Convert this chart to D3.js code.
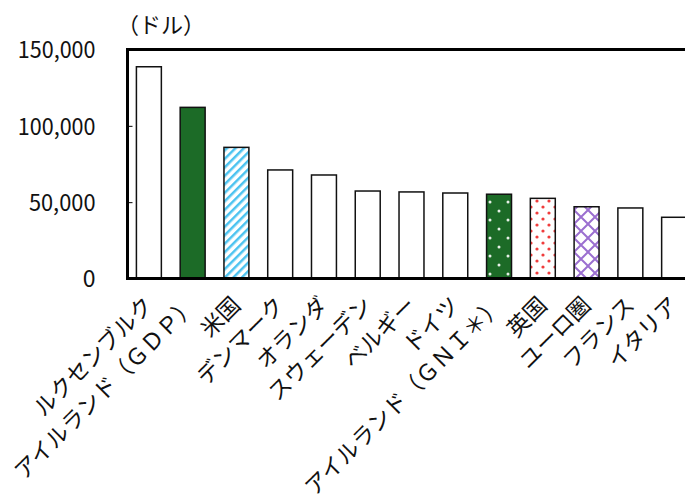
<!DOCTYPE html>
<html><head><meta charset="utf-8">
<script src="https://cdn.jsdelivr.net/npm/d3@7"></script>
<style>
html,body{margin:0;padding:0;background:#fff;}
svg{display:block;}
text{font-family:"Noto Sans CJK JP","Noto Sans",sans-serif;}
</style></head>
<body>
<script>
const categories = ["ルクセンブルク","アイルランド（ＧＤＰ）","米国","デンマーク","オランダ","スウェーデン","ベルギー","ドイツ","アイルランド（ＧＮＩ＊）","英国","ユーロ圏","フランス","イタリア"];
const values = [138700,112100,85900,71100,67800,57300,56700,56000,55200,52500,47000,46200,40100];
const fills = ["none","green","blueStripe","none","none","none","none","none","greenDots","redDots","purpleLattice","none","none"];
const yTicks = [0,50000,100000,150000];
const unitLabel = "（ドル）";

const W=685,H=501;
const svg=d3.select("body").append("svg").attr("width",W).attr("height",H);
const defs=svg.append("defs");

// patterns
const p1=defs.append("pattern").attr("id","blueStripe").attr("patternUnits","userSpaceOnUse").attr("width",6).attr("height",6).attr("patternTransform","rotate(45)");
p1.append("rect").attr("width",6).attr("height",6).attr("fill","#fff");
p1.append("rect").attr("x",0).attr("width",2.5).attr("height",6).attr("fill","#4cc3f0");

const p2=defs.append("pattern").attr("id","greenDots").attr("patternUnits","userSpaceOnUse").attr("width",18).attr("height",18);
p2.append("rect").attr("width",18).attr("height",18).attr("fill","#1c6b27");
p2.append("circle").attr("cx",4).attr("cy",4).attr("r",1.5).attr("fill","#e8f0e8");
p2.append("circle").attr("cx",13).attr("cy",13).attr("r",1.5).attr("fill","#e8f0e8");

const p3=defs.append("pattern").attr("id","redDots").attr("patternUnits","userSpaceOnUse").attr("width",12).attr("height",12);
p3.append("rect").attr("width",12).attr("height",12).attr("fill","#fff");
p3.append("circle").attr("cx",3).attr("cy",3).attr("r",1.6).attr("fill","#f03c3c");
p3.append("circle").attr("cx",9).attr("cy",9).attr("r",1.6).attr("fill","#f03c3c");

const p4=defs.append("pattern").attr("id","purpleLattice").attr("patternUnits","userSpaceOnUse").attr("width",14).attr("height",14);
p4.append("rect").attr("width",14).attr("height",14).attr("fill","#fff");
p4.append("path").attr("d","M0,0L14,14M14,0L0,14").attr("stroke","#9b6fd0").attr("stroke-width",2).attr("fill","none");

const fillMap={none:"#fff",green:"#1c6b27",blueStripe:"url(#blueStripe)",greenDots:"url(#greenDots)",redDots:"url(#redDots)",purpleLattice:"url(#purpleLattice)"};

const x=d3.scaleBand().domain(categories).range([127,696]).paddingInner(0.43).paddingOuter(0.215);
const y=d3.scaleLinear().domain([0,150000]).range([278.5,49.5]);

// bars
svg.append("g").selectAll("rect").data(categories).join("rect")
  .attr("x",d=>x(d)).attr("width",x.bandwidth())
  .attr("y",(d,i)=>y(values[i])).attr("height",(d,i)=>y(0)-y(values[i]))
  .attr("fill",(d,i)=>fillMap[fills[i]])
  .attr("stroke","#111").attr("stroke-width",1.5);

// y axis
const yAxis=d3.axisLeft(y).tickValues(yTicks).tickFormat(d3.format(",")).tickSize(-5).tickPadding(32);
const ga=svg.append("g").attr("transform","translate(127.5,0)").call(yAxis);
ga.select(".domain").remove();
ga.selectAll(".tick line").attr("stroke","#000").attr("stroke-width",1);
ga.selectAll(".tick text").attr("font-size",23).attr("fill","#111").attr("dy","0.36em")
  .each(function(d){
    const t=d3.format(",")(d);
    if(t.length>1){
      d3.select(this).attr("textLength", t.length*11.1).attr("lengthAdjust","spacingAndGlyphs");
    }
  });

// frame
svg.append("path").attr("d",`M${W+2},${y(150000)}H127.5V${y(0)}H${W+2}`).attr("fill","none").attr("stroke","#000").attr("stroke-width",3);

// x labels
svg.append("g").selectAll("text").data(categories).join("text")
  .attr("transform",d=>`translate(${x(d)+x.bandwidth()/2},${301}) rotate(-45)`)
  .attr("text-anchor","end").attr("dy","0.35em")
  .attr("font-size",22.5).attr("fill","#111")
  .text(d=>d);

svg.append("text").attr("x",117).attr("y",33).attr("font-size",22).attr("fill","#111").text(unitLabel);
</script>
</body></html>
